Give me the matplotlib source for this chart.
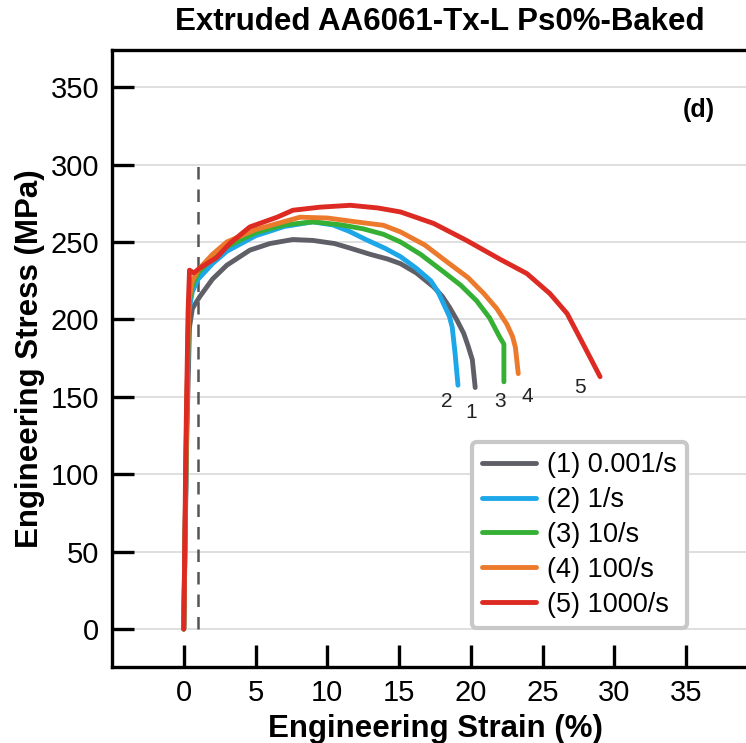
import matplotlib
matplotlib.use("Agg")
import matplotlib.pyplot as plt

plt.rcParams['font.family'] = ['Liberation Sans', 'DejaVu Sans']

title = "Extruded AA6061-Tx-L Ps0%-Baked"
xlabel = "Engineering Strain (%)"
ylabel = "Engineering Stress (MPa)"
xticks = [0, 5, 10, 15, 20, 25, 30, 35]
yticks = [0, 50, 100, 150, 200, 250, 300, 350]

labels = ["(1) 0.001/s", "(2) 1/s", "(3) 10/s", "(4) 100/s", "(5) 1000/s"]
colors = ["#5f5f68", "#1ea7e8", "#35b035", "#ec7a2c", "#dd2a22"]
tags = ["1", "2", "3", "4", "5"]
tag_x = [20.0, 18.3, 22.0, 23.9, 27.6]
tag_y = [140, 147, 147, 150, 156]

strain1 = [0, 0.2, 0.4, 0.6, 1.1, 2.0, 3.0, 4.6, 6.0, 7.6, 9.0, 10.5, 11.6, 13.0, 14.2, 15.1, 16.2, 17.4, 18.0, 18.5, 19.0, 19.5, 19.8, 20.1, 20.3]
stress1 = [0, 120, 195, 207, 214.5, 226, 235, 244.7, 249, 251.6, 251, 249, 246, 242, 239, 236, 230, 221, 215, 208, 200, 191, 183, 174, 156]

strain2 = [0, 0.2, 0.35, 0.6, 1.0, 2.0, 3.0, 5.0, 7.0, 9.0, 10.4, 11.5, 12.7, 14.0, 15.1, 16.2, 17.2, 17.7, 18.1, 18.5, 18.7, 18.9, 19.1]
stress2 = [0, 130, 205, 218, 226, 236, 244, 254, 260, 263, 261, 257, 251.5, 246, 240.5, 233, 225, 218, 210, 202, 195, 178, 157.5]

strain3 = [0, 0.2, 0.35, 0.6, 1.0, 2.0, 3.0, 5.0, 7.0, 9.0, 11.0, 12.5, 13.9, 15.1, 16.5, 18.1, 19.3, 20.4, 21.3, 22.0, 22.3, 22.3]
stress3 = [0, 135, 210, 222, 230, 240, 247, 256, 261, 263, 261, 258.5, 255, 250, 242, 230.7, 222, 212, 201, 188.7, 184, 159.7]

strain4 = [0, 0.2, 0.35, 0.6, 1.0, 2.0, 3.0, 5.0, 8.1, 10.0, 12.0, 13.9, 15.1, 16.8, 18.5, 19.8, 20.9, 21.8, 22.5, 22.9, 23.1, 23.3]
stress4 = [0, 135, 212, 225, 232, 242, 250, 258, 266, 265.5, 263, 260.8, 256.5, 248, 236, 227, 216.7, 207, 197, 189, 182, 165]

strain5 = [0, 0.15, 0.3, 0.4, 0.7, 1.1, 2.3, 3.2, 4.6, 6.5, 7.6, 9.5, 11.6, 13.5, 15.1, 17.4, 19.7, 22.0, 23.9, 25.5, 26.7, 27.8, 29.0]
stress5 = [0, 120, 205, 231.8, 230, 233, 240, 249, 259.7, 266, 270.5, 272.5, 273.7, 272, 269.4, 262, 251, 239, 229.6, 216.7, 203.8, 184.4, 163]

series = [(strain1, stress1), (strain2, stress2), (strain3, stress3), (strain4, stress4), (strain5, stress5)]

fig = plt.figure(figsize=(7.46, 7.43), dpi=100)
ax = fig.add_axes([0.1501, 0.1023, 0.866, 0.8304])

for y in yticks:
    ax.axhline(y, color="#d9d9d9", lw=1.2, zorder=0)

ax.plot([1, 1], [0, 300], ls=(0, (5, 4)), color="#555555", lw=1.8, zorder=1)

for (sx, sy), c, lab in zip(series, colors, labels):
    ax.plot(sx, sy, color=c, lw=3.5, label=lab, solid_capstyle='round', solid_joinstyle='round', zorder=3)

for t, tx, ty in zip(tags, tag_x, tag_y):
    ax.text(tx, ty, t, fontsize=15, ha='center', va='center', color='#222222')

ax.text(35.9, 335, "(d)", fontsize=18, fontweight='bold', ha='center', va='center')

ax.set_xlim(-5, 40)
ax.set_ylim(-24.5, 374)
ax.set_xticks(xticks)
ax.set_yticks(yticks)
ax.tick_params(axis='both', direction='in', length=16, width=2.4, labelsize=21)
ax.tick_params(axis='x', pad=9)
ax.tick_params(axis='y', pad=9)
for s in ['left', 'bottom', 'top']:
    ax.spines[s].set_linewidth(2.4)
ax.spines['right'].set_visible(False)

ax.set_xlabel(xlabel, fontsize=22.5, fontweight='bold', labelpad=5)
ax.set_ylabel(ylabel, fontsize=22.5, fontweight='bold', labelpad=4)
fig.text(0.59, 0.97, title, fontsize=22.5, fontweight='bold', ha='center', va='center')

leg = ax.legend(loc='lower left', bbox_to_anchor=(0.557, 0.063), fontsize=19.5, frameon=True,
                fancybox=True, handlelength=2.0, handletextpad=0.4, labelspacing=0.33,
                borderpad=0.38, borderaxespad=0)
fr = leg.get_frame()
fr.set_edgecolor("#c8c8c8")
fr.set_linewidth(3)
fr.set_alpha(1)
for l in leg.get_lines():
    l.set_linewidth(3.5)

fig.savefig("out.png", dpi=100)
